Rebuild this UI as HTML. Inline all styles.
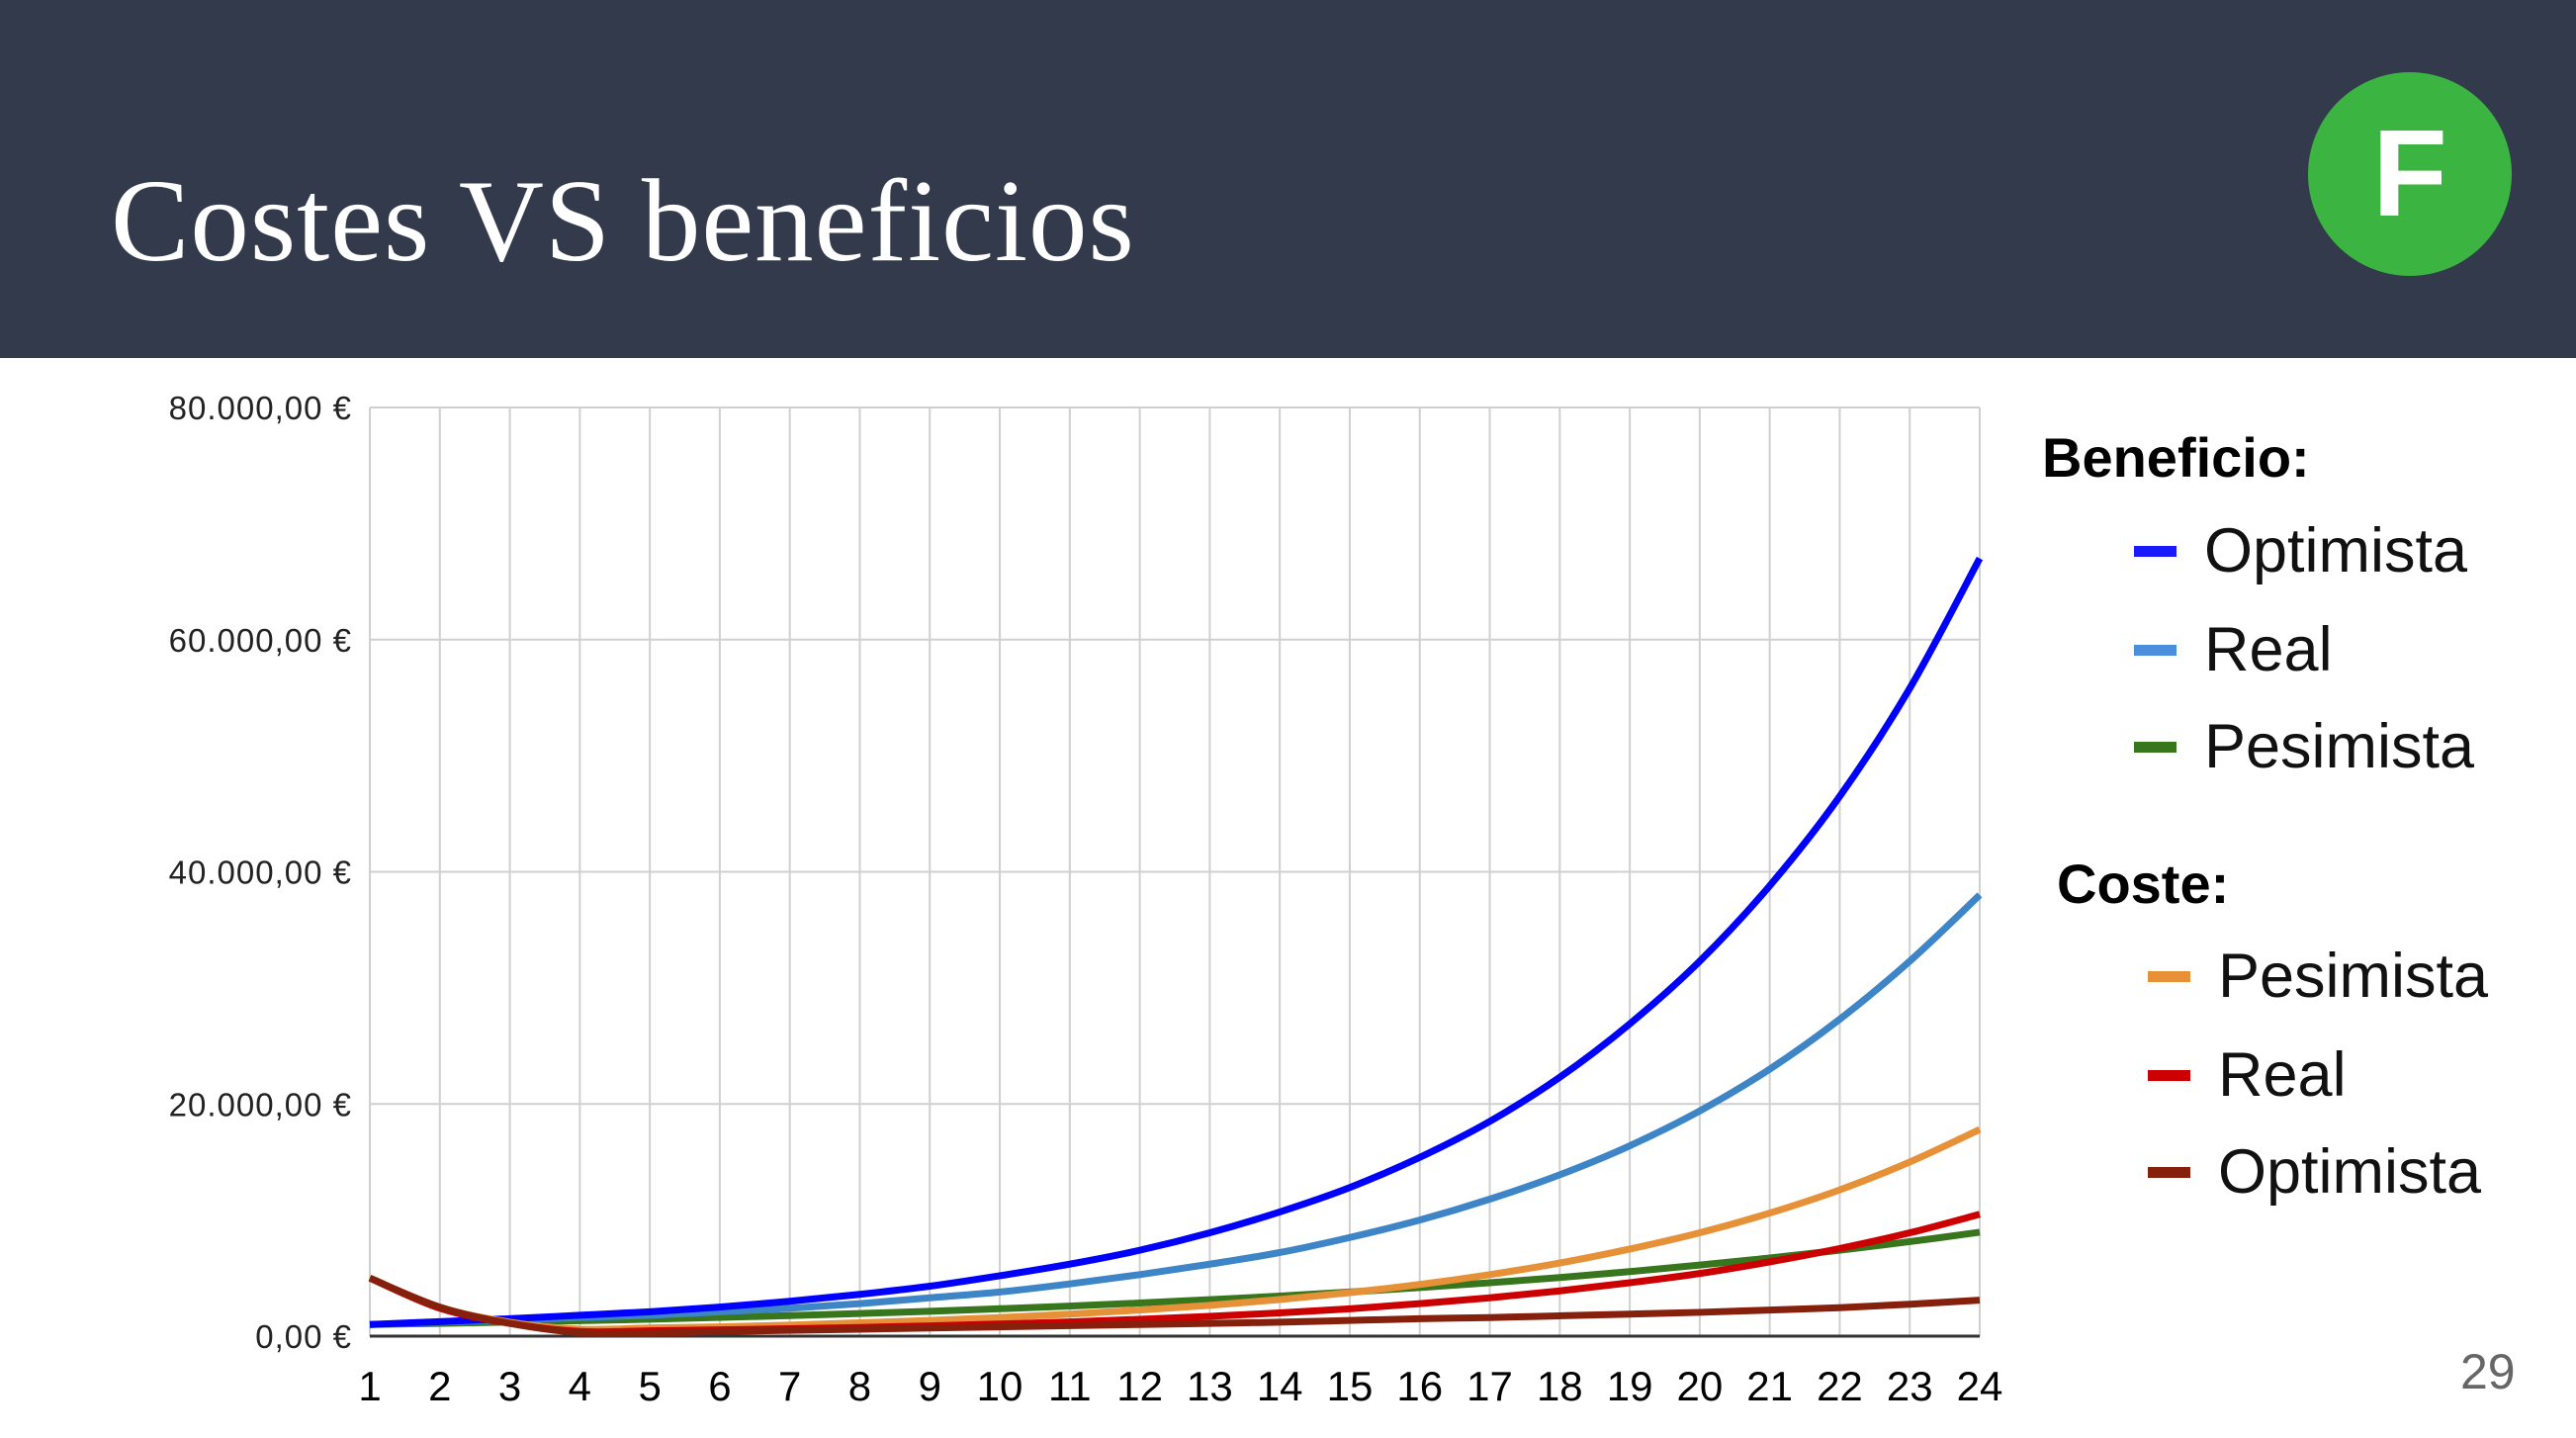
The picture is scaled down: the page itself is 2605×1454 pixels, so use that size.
<!DOCTYPE html>
<html><head><meta charset="utf-8"><style>
body{margin:0;width:2605px;height:1454px;overflow:hidden;background:#fff;font-family:"Liberation Sans",sans-serif}
#hdr{position:absolute;left:0;top:0;width:2605px;height:362px;background:#323a4c}
#title{position:absolute;left:112px;top:164px;font-family:"Liberation Serif",serif;font-size:119px;color:#fff;line-height:1;letter-spacing:1px}
#logo{position:absolute;left:2334px;top:73px;width:206px;height:206px;border-radius:50%;background:#3bb441;color:#fff;font-weight:bold;font-size:124px;text-align:center;line-height:206px}
#pg{position:absolute;left:2488px;top:1358px;font-size:50px;color:#666}
</style></head><body>
<div id="hdr"></div>
<div id="title">Costes VS beneficios</div>
<div id="logo">F</div>
<div id="pg">29</div>
<svg id="chart" width="2605" height="1454" style="position:absolute;left:0;top:0"></svg>
<script>
const categories=[1,2,3,4,5,6,7,8,9,10,11,12,13,14,15,16,17,18,19,20,21,22,23,24];
const yTicks=[0,20000,40000,60000,80000];
const yTickLabels=["0,00 €","20.000,00 €","40.000,00 €","60.000,00 €","80.000,00 €"];
const benOptimista=[1000,1250,1500,1800,2100,2500,3000,3600,4300,5200,6200,7400,8900,10700,12800,15400,18500,22300,26900,32300,38800,46500,55800,67000];
const benReal=[1000,1200,1400,1600,1800,2100,2400,2800,3300,3800,4500,5300,6200,7200,8500,10000,11800,13900,16400,19400,23000,27300,32300,38000];
const benPesimista=[1000,1100,1210,1330,1460,1610,1770,1950,2140,2360,2590,2850,3140,3450,3800,4180,4600,5050,5560,6120,6730,7400,8140,8950];
const costPesimista=[5000,2500,1200,600,700,800,950,1150,1350,1600,1900,2250,2650,3150,3750,4450,5300,6300,7500,8900,10600,12600,15000,17800];
const costReal=[5000,2400,1100,400,460,540,640,750,880,1040,1230,1450,1700,2000,2350,2800,3300,3900,4600,5400,6400,7550,8900,10500];
const costOptimista=[5000,2500,1100,300,250,400,500,600,700,800,900,1000,1100,1200,1350,1500,1600,1750,1900,2050,2250,2450,2750,3100];
const series=[
 {name:"ben-pesimista",d:benPesimista,c:"#38761d"},
 {name:"ben-real",d:benReal,c:"#3d85c6"},
 {name:"ben-optimista",d:benOptimista,c:"#0000ff"},
 {name:"cost-pesimista",d:costPesimista,c:"#e69138"},
 {name:"cost-real",d:costReal,c:"#cc0000"},
 {name:"cost-optimista",d:costOptimista,c:"#85200c"}];
const X0=374,X1=2002,Y0=1351,Y1=412,YMAX=80000;
const xs=i=>X0+(X1-X0)*i/(categories.length-1);
const ys=v=>Y0-(Y0-Y1)*v/YMAX;
const svg=document.getElementById('chart');const NS="http://www.w3.org/2000/svg";
function mk(t,a,txt){const e=document.createElementNS(NS,t);for(const k in a)e.setAttribute(k,a[k]);if(txt!==undefined)e.textContent=txt;svg.appendChild(e);return e;}
categories.forEach((c,i)=>{const l=mk('line',{x1:xs(i),x2:xs(i),y1:Y1,y2:Y0,stroke:'#d0d0d0','stroke-width':2});


const t=mk('text',{x:xs(i),y:1416,'text-anchor':'middle','font-size':42,fill:'#000'},c);

});
yTicks.forEach((v,i)=>{const l=mk('line',{x1:X0,x2:X1,y1:ys(v),y2:ys(v),stroke:i==0?'#333':'#d0d0d0','stroke-width':i==0?3:2});


const t=mk('text',{x:356,y:ys(v)+12,'text-anchor':'end','font-size':33,'letter-spacing':1,fill:'#222'},yTickLabels[i]);

});
function path(d){const p=d.map((v,i)=>[xs(i),ys(v)]);let s=`M${p[0][0]},${p[0][1]}`;
for(let i=0;i<p.length-1;i++){const a=p[Math.max(0,i-1)],b=p[i],c=p[i+1],e=p[Math.min(p.length-1,i+2)];
s+=` C${b[0]+(c[0]-a[0])/6},${b[1]+(c[1]-a[1])/6} ${c[0]-(e[0]-b[0])/6},${c[1]-(e[1]-b[1])/6} ${c[0]},${c[1]}`;}return s;}
series.forEach(s=>{const e=mk('path',{d:path(s.d),fill:'none',stroke:s.c,'stroke-width':7,'stroke-linejoin':'round'});

});
const leg=[["h","Beneficio:",2065,482],["i","Optimista",2158,578,"#1a1aff"],["i","Real",2158,678,"#4a8fdc"],["i","Pesimista",2158,776,"#38761d"],
["h","Coste:",2080,913],["i","Pesimista",2172,1008,"#e69138"],["i","Real",2172,1108,"#cc0000"],["i","Optimista",2172,1206,"#85200c"]];
leg.forEach(l=>{if(l[0]=="h"){const t=mk('text',{x:l[2],y:l[3],'font-size':56,'font-weight':'bold',fill:'#000'},l[1]);

}
else{const r=mk('rect',{x:l[2],y:l[3]-26,width:43,height:11,fill:l[4]});


const t=mk('text',{x:l[2]+71,y:l[3],'font-size':63,fill:'#111'},l[1]);

}});
</script>
</body></html>
